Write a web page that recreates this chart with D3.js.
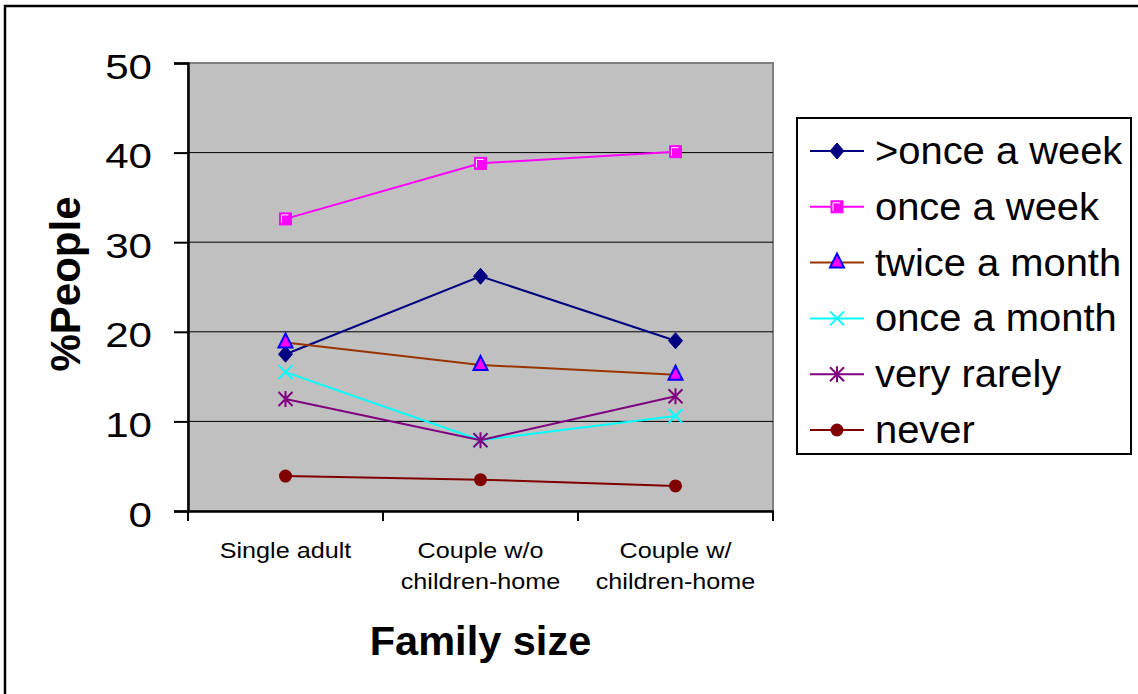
<!DOCTYPE html>
<html>
<head>
<meta charset="utf-8">
<script src="https://cdn.jsdelivr.net/npm/d3@7"></script>
<style>
  body { margin: 0; background: #fff; }
  text { font-family: "Liberation Sans", Arial, sans-serif; }
</style>
</head>
<body>
<div id="chart"></div>
<script>
// data
var categories = ["Single adult", "Couple w/o children-home", "Couple w/ children-home"];
var catLabels = [["Single adult"], ["Couple w/o", "children-home"], ["Couple w/", "children-home"]];
var seriesNames = [">once a week", "once a week", "twice a month", "once a month", "very rarely", "never"];
var moreThanWeekly = [17.5, 26.2, 19.0];
var onceWeek = [32.6, 38.8, 40.1];
var twiceMonth = [18.8, 16.3, 15.2];
var onceMonth = [15.5, 7.9, 10.6];
var veryRarely = [12.5, 7.9, 12.8];
var never = [3.9, 3.5, 2.8];
var yTicks = [0, 10, 20, 30, 40, 50];

function init(){

var w = 1138;
var h = 694;
var left = 188, right = 773, top = 63, bottom = 511;

var svg = d3.select("#chart")
    .append("svg")
    .attr("width", w)
    .attr("height", h);

// outer frame (only left + top visible in the picture)
svg.append("rect")
    .attr("x", 5).attr("y", 6)
    .attr("width", 1300).attr("height", 900)
    .attr("fill", "none")
    .attr("stroke", "#000")
    .attr("stroke-width", 2.5);

var x = d3.scaleBand().domain(categories).range([left, right]);
var y = d3.scaleLinear().domain([0, 50]).range([bottom, top]);

// plot area
svg.append("rect")
    .attr("x", left).attr("y", top)
    .attr("width", right - left).attr("height", bottom - top)
    .attr("fill", "#c0c0c0")
    .attr("stroke", "#808080")
    .attr("stroke-width", 2);

// gridlines
svg.selectAll("line.grid")
    .data(yTicks.filter(function(d){ return d > 0 && d < 50; }))
    .enter()
    .append("line")
    .attr("class", "grid")
    .attr("x1", left).attr("x2", right)
    .attr("y1", function(d){ return y(d); })
    .attr("y2", function(d){ return y(d); })
    .attr("stroke", "#000")
    .attr("stroke-width", 1);

// y axis (labels a bit wide in the original)
var sx = 1.17;
var yAxis = svg.append("g")
    .attr("transform", "translate(" + left + ",0)")
    .call(d3.axisLeft(y).tickValues(yTicks).tickSize(14).tickPadding(0));
yAxis.select(".domain").attr("stroke", "#000").attr("stroke-width", 2.5);
yAxis.selectAll(".tick line").attr("stroke", "#000").attr("stroke-width", 2);
yAxis.selectAll(".tick text")
    .attr("x", -36 / sx)
    .attr("dy", "0.42em")
    .attr("transform", "scale(" + sx + ",1)")
    .attr("font-size", 36)
    .attr("fill", "#000")
    .attr("font-family", "Liberation Sans, Arial, sans-serif");

// x axis
var xAxis = svg.append("g")
    .attr("transform", "translate(0," + bottom + ")")
    .call(d3.axisBottom(x).tickSize(0).tickFormat(""));
xAxis.select(".domain").attr("stroke", "#000").attr("stroke-width", 2.5);
svg.selectAll("line.xtick")
    .data(categories.concat(["end"]))
    .enter()
    .append("line")
    .attr("class", "xtick")
    .attr("x1", function(d, i){ return left + i * x.bandwidth(); })
    .attr("x2", function(d, i){ return left + i * x.bandwidth(); })
    .attr("y1", bottom).attr("y2", bottom + 10)
    .attr("stroke", "#000").attr("stroke-width", 2);

catLabels.forEach(function(lines, i){
    var cx = x(categories[i]) + x.bandwidth() / 2;
    var t = svg.append("text")
        .attr("transform", "translate(" + cx + ",0) scale(1.12,1)")
        .attr("text-anchor", "middle")
        .attr("font-size", 22.5)
        .attr("fill", "#000");
    lines.forEach(function(s, j){
        t.append("tspan")
            .attr("x", 0)
            .attr("y", 558 + j * 31)
            .text(s);
    });
});

// axis titles
svg.append("text")
    .attr("x", x(categories[1]) + x.bandwidth() / 2)
    .attr("y", 655)
    .attr("text-anchor", "middle")
    .attr("font-size", 41.5)
    .attr("font-weight", "bold")
    .text("Family size");

svg.append("text")
    .attr("transform", "translate(80,284) rotate(-90)")
    .attr("text-anchor", "middle")
    .attr("font-size", 42)
    .attr("font-weight", "bold")
    .text("%People");

// series
var series = [
    {name: seriesNames[0], values: moreThanWeekly, color: "#000080", marker: "diamond"},
    {name: seriesNames[1], values: onceWeek, color: "#ff00ff", marker: "square"},
    {name: seriesNames[2], values: twiceMonth, color: "#993300", marker: "triangle"},
    {name: seriesNames[3], values: onceMonth, color: "#00ffff", marker: "x"},
    {name: seriesNames[4], values: veryRarely, color: "#800080", marker: "star"},
    {name: seriesNames[5], values: never, color: "#800000", marker: "circle"}
];

var line = d3.line()
    .x(function(d, i){ return x(categories[i]) + x.bandwidth() / 2; })
    .y(function(d){ return y(d); });

function drawMarker(g, type, color){
    if (type === "diamond") {
        g.append("path").attr("d", "M0,-8L7,0L0,8L-7,0Z").attr("fill", color).attr("stroke", color);
    } else if (type === "square") {
        g.append("rect").attr("x", -6).attr("y", -6).attr("width", 12).attr("height", 12)
            .attr("fill", color).attr("stroke", color);
        g.append("path").attr("d", "M-4,4L-4,-4L3,-4").attr("fill", "none")
            .attr("stroke", "#fff").attr("stroke-width", 1);
    } else if (type === "triangle") {
        g.append("path").attr("d", "M0,-9L7,5L-7,5Z").attr("fill", "#ff00ff")
            .attr("stroke", "#0000ff").attr("stroke-width", 2);
    } else if (type === "x") {
        g.append("path").attr("d", "M-7,-7L7,7M-7,7L7,-7").attr("stroke", color).attr("stroke-width", 2);
    } else if (type === "star") {
        g.append("path").attr("d", "M-7,-7L7,7M-7,7L7,-7M0,-8L0,8").attr("stroke", color).attr("stroke-width", 2);
    } else if (type === "circle") {
        g.append("circle").attr("r", 6.5).attr("fill", color);
    }
}

series.forEach(function(s){
    svg.append("path")
        .datum(s.values)
        .attr("d", line)
        .attr("fill", "none")
        .attr("stroke", s.color)
        .attr("stroke-width", 2);
    svg.selectAll(null)
        .data(s.values)
        .enter()
        .append("g")
        .attr("transform", function(d, i){
            return "translate(" + (x(categories[i]) + x.bandwidth() / 2) + "," + y(d) + ")";
        })
        .each(function(){ drawMarker(d3.select(this), s.marker, s.color); });
});

// legend
var legend = svg.append("g");
legend.append("rect")
    .attr("x", 797).attr("y", 118)
    .attr("width", 334).attr("height", 336)
    .attr("fill", "#fff")
    .attr("stroke", "#000")
    .attr("stroke-width", 2);

series.forEach(function(s, i){
    var cy = 151 + i * 55.8;
    legend.append("line")
        .attr("x1", 810).attr("x2", 864)
        .attr("y1", cy).attr("y2", cy)
        .attr("stroke", s.color).attr("stroke-width", 2);
    var g = legend.append("g").attr("transform", "translate(837," + cy + ")");
    drawMarker(g, s.marker, s.color);
    legend.append("text")
        .attr("transform", "translate(875," + (cy + 13) + ") scale(1.05,1)")
        .attr("font-size", 38)
        .attr("fill", "#000")
        .text(s.name);
});

}

window.onload = init;
</script>
</body>
</html>
